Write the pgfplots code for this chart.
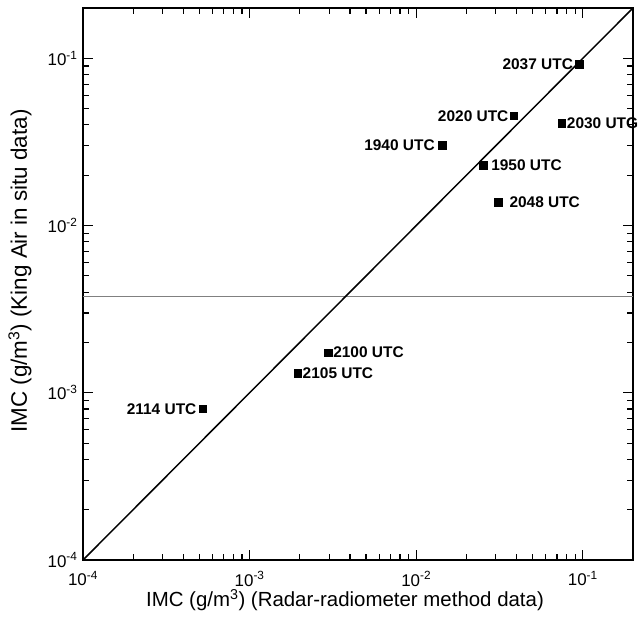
\documentclass[border=0pt]{standalone}
\usepackage{fontspec}
\setmainfont{Liberation Sans}
\usepackage{pgfplots}
\pgfplotsset{compat=1.18}

\begin{document}
\begin{tikzpicture}
\begin{axis}[
    xmode=log, ymode=log,
    scale only axis,
    width=550bp, height=552bp,
    xmin=1e-4, xmax=0.2,
    ymin=1e-4, ymax=0.2,
    xtick={1e-4,1e-3,1e-2,1e-1},
    ytick={1e-4,1e-3,1e-2,1e-1},
    xticklabels={10\textsuperscript{-4},10\textsuperscript{-3},10\textsuperscript{-2},10\textsuperscript{-1}},
    yticklabels={10\textsuperscript{-4},10\textsuperscript{-3},10\textsuperscript{-2},10\textsuperscript{-1}},
    axis line style={line width=2pt},
    major tick length=10bp,
    minor tick length=6bp,
    every tick/.style={black, line width=1.2pt},
    tick label style={font=\fontsize{17}{19}\selectfont},
    xticklabel style={yshift=-8bp},
    yticklabel style={xshift=-2bp},
    xlabel style={font=\fontsize{20.5}{24}\selectfont,
        at={(axis description cs:0.5,0)}, anchor=center, yshift=-40bp, xshift=-13bp},
    % label is rotated: xshift moves it up, yshift moves it left
    ylabel style={font=\fontsize{22.5}{26}\selectfont,
        at={(axis description cs:0,0.5)}, anchor=center, yshift=63bp, xshift=13bp},
    xlabel={IMC (g/m\textsuperscript{3}) (Radar-radiometer method data)},
    ylabel={IMC (g/m\textsuperscript{3}) (King Air in situ data)},
    clip=false,
]
% scan line across the plot
\addplot[gray, line width=0.6pt] coordinates {(1e-4,0.0038) (0.2,0.0038)};
% 1:1 line
\addplot[black, line width=1.5pt] coordinates {(1e-4,1e-4) (0.2,0.2)};

\addplot[only marks, mark=square*, mark size=3.8bp, black,
    point meta=explicit symbolic,
    nodes near coords,
    visualization depends on={value \thisrow{pos} \as \lblpos},
    visualization depends on={\thisrow{dx} \as \lbldx},
    every node near coord/.append style={
        anchor=\lblpos, xshift=\lbldx bp, inner sep=0pt,
        font=\fontsize{15.5}{17}\selectfont\bfseries}
] table[col sep=comma, meta=label] {
x,y,label,pos,dx
0.095,0.092,2037 UTC,east,-6
0.0384,0.0454,2020 UTC,east,-5
0.0747,0.0408,2030 UTG,west,5
0.01426,0.0302,1940 UTC,east,-7
0.0252,0.023,1950 UTC,west,8
0.0311,0.0138,2048 UTC,west,11
0.00296,0.00174,2100 UTC,west,5
0.00194,0.00131,2105 UTC,west,5
0.000522,0.000802,2114 UTC,east,-6
};
\coordinate (bl) at (rel axis cs:0,0);
\coordinate (tr) at (rel axis cs:1,1);
\end{axis}
\pgfresetboundingbox
\path ([shift={(-83bp,-61bp)}]bl) rectangle ([shift={(8bp,8bp)}]tr);
\end{tikzpicture}
\end{document}
